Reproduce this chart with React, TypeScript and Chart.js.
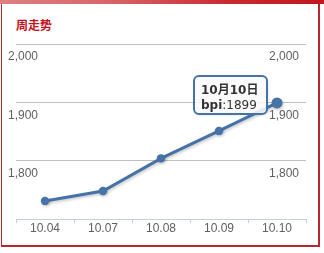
import React, { useEffect, useRef } from "react";
import { Chart, registerables } from "chart.js";

Chart.register(...registerables);

// Weekly trend data
const categories = ["10.04", "10.07", "10.08", "10.09", "10.10"];
const bpiValues = [1731, 1748, 1804, 1851, 1899];
const yTicks = [1800, 1900, 2000];
const seriesName = "bpi";
const chartTitle = "周走势";
const highlightIndex = 4;

const BLUE = "#4572A7";
const AXIS_FONT = "'Liberation Sans', Arial, sans-serif";
const TIP_FONT = "'DejaVu Sans', 'Noto Sans CJK SC', sans-serif";
const LABEL_COLOR = "#606060";

const fmt = (v: number) => v.toLocaleString("en-US");

// Soft drop shadow under the series line and markers
const lineShadow = {
  id: "lineShadow",
  beforeDatasetsDraw(chart: any) {
    const c = chart.ctx;
    c.save();
    c.shadowColor = "rgba(0,0,0,0.22)";
    c.shadowBlur = 3;
    c.shadowOffsetX = 1;
    c.shadowOffsetY = 1.5;
  },
  afterDatasetsDraw(chart: any) {
    chart.ctx.restore();
  },
};

// Pinned tooltip for the latest point
const pinnedTip = {
  id: "pinnedTip",
  afterDraw(chart: any) {
    const el = chart.getDatasetMeta(0).data[highlightIndex];
    if (!el) return;
    const ctx: CanvasRenderingContext2D = chart.ctx;
    const [mm, dd] = categories[highlightIndex].split(".").map((s) => parseInt(s, 10));
    const title = `${mm}月${dd}日`;
    const valueText = ":" + bpiValues[highlightIndex];

    ctx.save();
    ctx.font = `bold 12px ${TIP_FONT}`;
    const tw = ctx.measureText(title).width;
    const lw = ctx.measureText(seriesName).width;
    ctx.font = `12px ${TIP_FONT}`;
    const vw = ctx.measureText(valueText).width;
    const w = Math.round(Math.max(tw, lw + vw) + 16);
    const h = 38;
    const right = Math.round(el.x - 10);
    const left = right - w;
    const top = Math.round(el.y - 27);
    const r = 5;

    const path = () => {
      ctx.beginPath();
      ctx.moveTo(left + r, top);
      ctx.lineTo(right - r, top);
      ctx.arcTo(right, top, right, top + r, r);
      ctx.lineTo(right, top + h - r);
      ctx.arcTo(right, top + h, right - r, top + h, r);
      ctx.lineTo(left + r, top + h);
      ctx.arcTo(left, top + h, left, top + h - r, r);
      ctx.lineTo(left, top + r);
      ctx.arcTo(left, top, left + r, top, r);
      ctx.closePath();
    };

    path();
    ctx.shadowColor = "rgba(0,0,0,0.18)";
    ctx.shadowBlur = 3;
    ctx.shadowOffsetX = 1;
    ctx.shadowOffsetY = 1;
    ctx.fillStyle = "rgba(255,255,255,0.85)";
    ctx.fill();
    ctx.shadowColor = "transparent";
    ctx.lineWidth = 2;
    ctx.strokeStyle = BLUE;
    ctx.stroke();

    ctx.fillStyle = "#333333";
    ctx.textBaseline = "middle";
    ctx.textAlign = "left";
    ctx.font = `bold 12px ${TIP_FONT}`;
    ctx.fillText(title, left + 7, top + 14.5);
    ctx.fillText(seriesName, left + 7, top + 30);
    ctx.font = `12px ${TIP_FONT}`;
    ctx.fillText(valueText, left + 7 + lw, top + 30);
    ctx.restore();
  },
};

export default function App() {
  const canvasRef = useRef<HTMLCanvasElement | null>(null);

  useEffect(() => {
    const canvas = canvasRef.current;
    if (!canvas) return;

    const yTickCallback = (v: any) => (yTicks.includes(Number(v)) ? fmt(Number(v)) : "");

    const chart = new Chart(canvas, {
      type: "line",
      data: {
        labels: categories,
        datasets: [
          {
            label: seriesName,
            data: bpiValues,
            borderColor: BLUE,
            backgroundColor: BLUE,
            borderWidth: 3,
            tension: 0,
            fill: false,
            clip: false,
            pointBackgroundColor: BLUE,
            pointBorderWidth: 0,
            pointRadius: (ctx: any) => (ctx.dataIndex === highlightIndex ? 5.5 : 4.2),
            pointHoverRadius: 5.5,
          },
        ],
      },
      options: {
        responsive: false,
        animation: false,
        devicePixelRatio: 1,
        events: [],
        layout: { padding: { left: 8, right: 11, top: 44, bottom: 14 } },
        plugins: {
          legend: { display: false },
          tooltip: { enabled: false },
          title: { display: false },
        },
        scales: {
          x: {
            type: "category",
            offset: true,
            afterFit: (s: any) => {
              s.height = 20;
            },
            border: { display: true, color: "#C0D0E0", width: 1 },
            grid: {
              offset: true,
              drawOnChartArea: false,
              drawTicks: true,
              tickLength: 4,
              color: "#C0D0E0",
              tickColor: "#C0D0E0",
            },
            ticks: {
              color: LABEL_COLOR,
              font: { family: AXIS_FONT, size: 12 },
              padding: -2,
              maxRotation: 0,
              autoSkip: false,
            },
          },
          y: {
            position: "left",
            min: 1700,
            max: 2000,
            afterFit: (s: any) => {
              s.width = 8;
            },
            border: { display: false },
            grid: {
              drawTicks: false,
              lineWidth: 1,
              color: (ctx: any) =>
                ctx.tick && ctx.tick.value === 1700 ? "rgba(0,0,0,0)" : "#C0C0C0",
            },
            ticks: {
              stepSize: 100,
              mirror: true,
              crossAlign: "near",
              labelOffset: 13,
              padding: -8,
              color: LABEL_COLOR,
              font: { family: AXIS_FONT, size: 12 },
              callback: yTickCallback,
            },
          },
          y2: {
            position: "right",
            min: 1700,
            max: 2000,
            afterFit: (s: any) => {
              s.width = 7;
            },
            border: { display: false },
            grid: { display: false, drawTicks: false },
            ticks: {
              stepSize: 100,
              mirror: true,
              crossAlign: "near",
              labelOffset: 13,
              padding: -7,
              color: LABEL_COLOR,
              font: { family: AXIS_FONT, size: 12 },
              callback: yTickCallback,
            },
          },
        },
      } as any,
      plugins: [lineShadow, pinnedTip],
    });

    return () => chart.destroy();
  }, []);

  return (
    <div
      style={{
        position: "fixed",
        left: 0,
        top: 0,
        width: 324,
        height: 253,
        overflow: "hidden",
        background: "#ffffff",
      }}
    >
      <div
        style={{
          position: "absolute",
          left: 0,
          top: 0,
          width: 324,
          height: 4,
          background:
            "linear-gradient(90deg, #dc8182 0%, #d66466 35%, #c92a30 70%, #c0171d 100%)",
        }}
      />
      <div
        style={{
          position: "absolute",
          left: 1,
          top: 4,
          width: 319,
          height: 243,
          boxSizing: "border-box",
          borderLeft: "1.5px solid #b8272c",
          borderRight: "2px solid #b8272c",
          borderBottom: "2px solid #b8272c",
        }}
      />
      <div
        style={{
          position: "absolute",
          left: 16,
          top: 18,
          height: 14,
          lineHeight: "14px",
          fontFamily: "'Noto Sans CJK SC', sans-serif",
          fontWeight: 700,
          fontSize: 12,
          color: "#c41020",
          whiteSpace: "nowrap",
        }}
      >
        {chartTitle}
      </div>
      <canvas
        ref={canvasRef}
        width={324}
        height={253}
        style={{ position: "absolute", left: 0, top: 0, width: 324, height: 253 }}
      />
    </div>
  );
}
